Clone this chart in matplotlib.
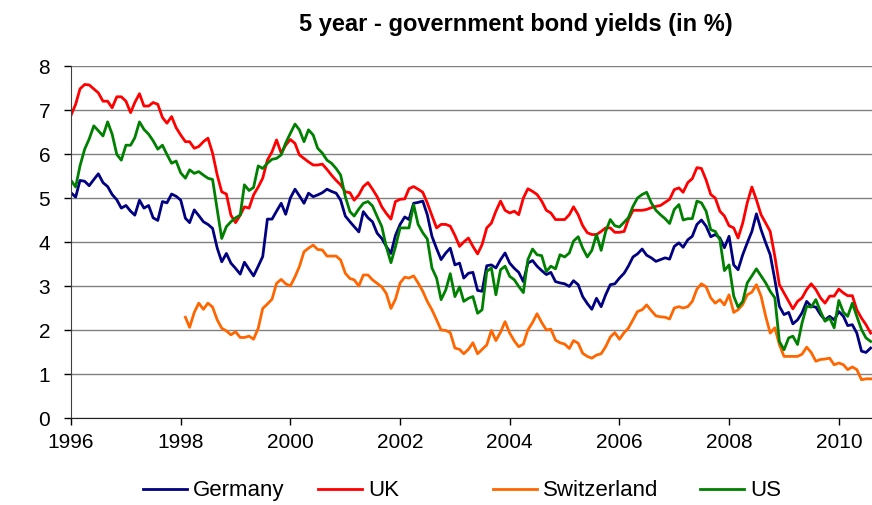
import numpy as np
import pandas as pd
import matplotlib
matplotlib.use("Agg")
import matplotlib.pyplot as plt
import matplotlib.dates as mdates

plt.rcParams['font.family'] = ['Liberation Sans', 'DejaVu Sans']

# monthly 5y yields, Jan 1996 - Aug 2010
months = pd.date_range('1996-01-01', periods=176, freq='MS')

germany = [
    5.12, 5.02, 5.40, 5.38, 5.28, 5.42, 5.55, 5.35, 5.26, 5.08, 4.96, 4.77,
    4.83, 4.70, 4.61, 4.95, 4.77, 4.83, 4.55, 4.49, 4.92, 4.89, 5.09, 5.04,
    4.95, 4.54, 4.44, 4.73, 4.60, 4.46, 4.40, 4.31, 3.86, 3.55, 3.74, 3.52,
    3.40, 3.27, 3.54, 3.38, 3.23, 3.45, 3.67, 4.52, 4.52, 4.70, 4.88, 4.63,
    5.00, 5.20, 5.05, 4.88, 5.11, 5.03, 5.07, 5.12, 5.20, 5.15, 5.11, 4.95,
    4.59, 4.46, 4.35, 4.23, 4.69, 4.55, 4.46, 4.20, 4.08, 3.90, 3.74, 4.15,
    4.40, 4.57, 4.51, 4.88, 4.90, 4.93, 4.62, 4.13, 3.85, 3.60, 3.75, 3.86,
    3.48, 3.52, 3.18, 3.29, 3.31, 2.90, 2.88, 3.46, 3.48, 3.41, 3.60, 3.75,
    3.52, 3.40, 3.31, 3.10, 3.52, 3.58, 3.45, 3.35, 3.26, 3.31, 3.10, 3.07,
    3.05, 2.99, 3.12, 3.03, 2.76, 2.60, 2.47, 2.72, 2.53, 2.80, 3.03, 3.05,
    3.18, 3.29, 3.45, 3.66, 3.73, 3.84, 3.70, 3.64, 3.56, 3.60, 3.64, 3.61,
    3.90, 3.98, 3.88, 4.05, 4.13, 4.40, 4.50, 4.36, 4.12, 4.17, 4.09, 3.87,
    4.13, 3.48, 3.37, 3.71, 3.98, 4.24, 4.64, 4.28, 3.98, 3.71, 3.14, 2.54,
    2.35, 2.40, 2.14, 2.23, 2.39, 2.65, 2.54, 2.52, 2.35, 2.23, 2.31, 2.23,
    2.42, 2.31, 2.10, 2.12, 1.93, 1.52, 1.49, 1.59,
]

uk = [
    6.88, 7.13, 7.48, 7.58, 7.57, 7.48, 7.39, 7.20, 7.20, 7.05, 7.30, 7.30,
    7.20, 6.94, 7.17, 7.37, 7.09, 7.09, 7.17, 7.13, 6.83, 6.70, 6.85, 6.60,
    6.43, 6.28, 6.28, 6.13, 6.17, 6.28, 6.36, 6.02, 5.52, 5.14, 5.09, 4.61,
    4.44, 4.61, 4.80, 4.77, 5.07, 5.25, 5.45, 5.86, 6.05, 6.32, 6.02, 6.20,
    6.33, 6.24, 5.98, 5.90, 5.82, 5.75, 5.75, 5.77, 5.65, 5.52, 5.40, 5.30,
    5.14, 5.12, 4.95, 5.07, 5.26, 5.35, 5.20, 5.03, 4.80, 4.65, 4.52, 4.92,
    4.97, 4.98, 5.21, 5.26, 5.20, 5.13, 4.89, 4.60, 4.32, 4.40, 4.40, 4.36,
    4.15, 3.90, 4.00, 4.09, 3.90, 3.73, 3.94, 4.32, 4.43, 4.70, 4.93, 4.72,
    4.66, 4.70, 4.62, 5.00, 5.21, 5.15, 5.08, 4.93, 4.72, 4.66, 4.51, 4.51,
    4.51, 4.62, 4.80, 4.62, 4.37, 4.21, 4.17, 4.17, 4.24, 4.32, 4.32, 4.22,
    4.22, 4.24, 4.51, 4.72, 4.72, 4.72, 4.74, 4.78, 4.81, 4.83, 4.90, 4.97,
    5.19, 5.23, 5.13, 5.35, 5.44, 5.69, 5.67, 5.41, 5.08, 5.00, 4.70, 4.59,
    4.37, 4.32, 4.09, 4.43, 4.89, 5.25, 4.96, 4.62, 4.43, 4.24, 3.67, 3.03,
    2.84, 2.65, 2.48, 2.65, 2.73, 2.92, 3.05, 2.92, 2.73, 2.61, 2.77, 2.77,
    2.93, 2.84, 2.78, 2.78, 2.46, 2.27, 2.12, 1.93,
]

# Swiss series only starts in Feb 1998
switzerland = [np.nan] * 25 + [
    2.29, 2.06, 2.40, 2.61, 2.47, 2.61, 2.52, 2.23, 2.04, 1.98, 1.89,
    1.96, 1.83, 1.83, 1.86, 1.79, 2.04, 2.49, 2.59, 2.70, 3.06, 3.15, 3.05,
    3.00, 3.21, 3.44, 3.78, 3.86, 3.93, 3.83, 3.82, 3.68, 3.68, 3.68, 3.59,
    3.29, 3.17, 3.14, 3.00, 3.25, 3.25, 3.14, 3.06, 2.98, 2.83, 2.49, 2.70,
    3.07, 3.20, 3.18, 3.23, 3.07, 2.88, 2.65, 2.46, 2.23, 2.00, 1.99, 1.94,
    1.59, 1.56, 1.46, 1.56, 1.71, 1.46, 1.56, 1.66, 1.99, 1.76, 1.95, 2.19,
    1.93, 1.75, 1.62, 1.68, 2.00, 2.17, 2.37, 2.17, 2.00, 2.02, 1.77, 1.71,
    1.68, 1.58, 1.76, 1.70, 1.47, 1.40, 1.36, 1.43, 1.46, 1.62, 1.84, 1.94,
    1.79, 1.94, 2.04, 2.23, 2.42, 2.46, 2.57, 2.44, 2.32, 2.30, 2.29, 2.25,
    2.50, 2.53, 2.50, 2.53, 2.65, 2.93, 3.05, 2.98, 2.73, 2.61, 2.69, 2.57,
    2.80, 2.40, 2.46, 2.58, 2.80, 2.86, 3.03, 2.77, 2.31, 1.93, 2.05, 1.67,
    1.40, 1.40, 1.40, 1.40, 1.45, 1.61, 1.49, 1.29, 1.33, 1.34, 1.36, 1.21,
    1.25, 1.21, 1.10, 1.16, 1.10, 0.87, 0.89, 0.89,
]

us = [
    5.40, 5.25, 5.73, 6.11, 6.34, 6.64, 6.53, 6.41, 6.73, 6.45, 5.99, 5.86,
    6.20, 6.20, 6.37, 6.73, 6.56, 6.45, 6.30, 6.11, 6.20, 5.99, 5.79, 5.84,
    5.57, 5.45, 5.64, 5.56, 5.60, 5.52, 5.45, 5.42, 4.73, 4.08, 4.35, 4.46,
    4.55, 4.61, 5.30, 5.17, 5.24, 5.73, 5.67, 5.79, 5.88, 5.90, 5.98, 6.25,
    6.47, 6.68, 6.55, 6.28, 6.55, 6.43, 6.13, 6.02, 5.86, 5.79, 5.67, 5.52,
    5.03, 4.69, 4.59, 4.75, 4.88, 4.92, 4.82, 4.58, 4.35, 3.89, 3.53, 3.89,
    4.32, 4.32, 4.32, 4.85, 4.40, 4.21, 4.07, 3.41, 3.18, 2.69, 2.91, 3.28,
    2.76, 2.98, 2.65, 2.72, 2.76, 2.38, 2.46, 3.33, 3.41, 2.80, 3.37, 3.45,
    3.22, 3.14, 2.99, 2.85, 3.60, 3.84, 3.71, 3.69, 3.33, 3.45, 3.39, 3.71,
    3.66, 3.75, 4.02, 4.12, 3.86, 3.66, 3.81, 4.17, 3.81, 4.24, 4.51, 4.37,
    4.34, 4.45, 4.55, 4.81, 5.00, 5.08, 5.13, 4.89, 4.72, 4.62, 4.53, 4.42,
    4.74, 4.85, 4.50, 4.53, 4.53, 4.93, 4.89, 4.70, 4.28, 4.24, 4.05, 3.35,
    3.48, 2.77, 2.52, 2.65, 3.07, 3.23, 3.39, 3.23, 3.07, 2.88, 2.73, 1.74,
    1.55, 1.82, 1.86, 1.67, 2.16, 2.54, 2.52, 2.69, 2.42, 2.20, 2.27, 2.05,
    2.67, 2.40, 2.31, 2.61, 2.31, 2.01, 1.82, 1.74,
]

series = [
    ('Germany', germany, '#000080'),
    ('UK', uk, '#ff0000'),
    ('Switzerland', switzerland, '#ff6600'),
    ('US', us, '#008000'),
]

# left edge of each legend entry (figure pixels)
legend_x = [143, 318, 493, 700]

fig = plt.figure(figsize=(8.72, 5.05), dpi=100)
ax = fig.add_axes([71 / 872, 87 / 505, 801 / 872, 352 / 505])

lines = []
for name, values, color in series:
    ln, = ax.plot(months, values, color=color, lw=2.0, label=name, solid_joinstyle='round')
    lines.append(ln)

ax.set_ylim(0, 8)
ax.set_yticks(range(0, 9))
ax.set_xlim(pd.Timestamp('1996-01-01'), pd.Timestamp('2010-08-10'))
ax.xaxis.set_major_locator(mdates.YearLocator(2))
ax.xaxis.set_major_formatter(mdates.DateFormatter('%Y'))

ax.yaxis.grid(True, color='#808080', lw=1)
ax.set_axisbelow(True)
for side in ('top', 'right'):
    ax.spines[side].set_visible(False)
ax.spines['left'].set_color('#404040')
ax.spines['bottom'].set_color('#202020')
ax.tick_params(axis='both', direction='out', length=5, width=1, labelsize=15, colors='black')
ax.tick_params(axis='y', pad=10)
ax.tick_params(axis='x', pad=6)

fig.text(0.591, 0.951, '5 year - government bond yields (in %)', ha='center', va='center',
         fontsize=17, fontweight='bold')

for ln, x0 in zip(lines, legend_x):
    fig.legend(handles=[ln], labels=[ln.get_label()], loc='center left',
               bbox_to_anchor=(x0 / 872, 0.028), frameon=False, fontsize=16,
               handlelength=2.0, handletextpad=0.25, borderpad=0, borderaxespad=0)

fig.savefig('out.png', dpi=100)
